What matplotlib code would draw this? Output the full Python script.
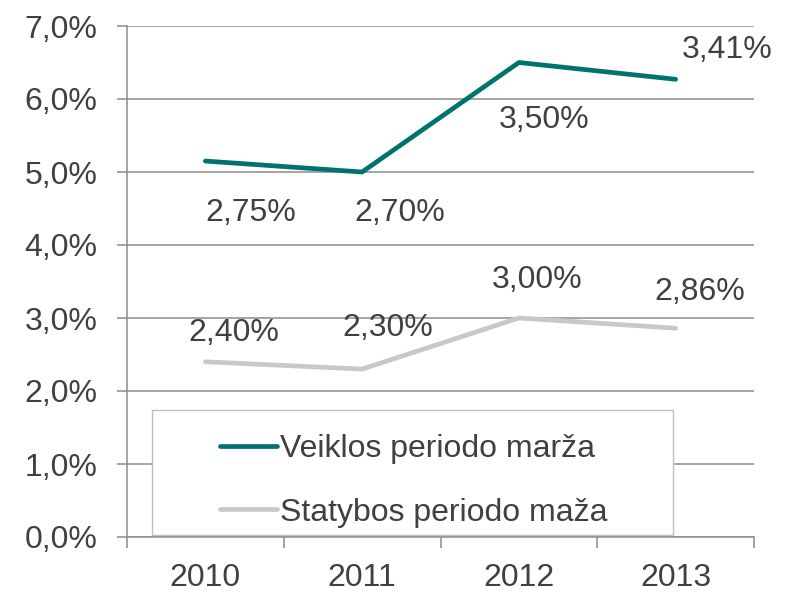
import matplotlib
matplotlib.use('Agg')
import matplotlib.pyplot as plt
from matplotlib.patches import Rectangle

plt.rcParams['font.family'] = ['Liberation Sans', 'DejaVu Sans']

# data (stacked line chart: top series is drawn on top of bottom one)
years = ['2010', '2011', '2012', '2013']
statybos = [2.40, 2.30, 3.00, 2.86]
veiklos = [2.75, 2.70, 3.50, 3.41]
veiklos_name = 'Veiklos periodo marža'
statybos_name = 'Statybos periodo maža'
y_ticks = [0, 1, 2, 3, 4, 5, 6, 7]

teal = '#00736F'
grey_line = '#C8C8C8'
txt = '#404040'
grid_c = '#8C8C8C'
fs = 23

def pct(v, dec=2):
    return f'{v:.{dec}f}'.replace('.', ',') + '%'

x = list(range(len(years)))
veiklos_top = [a + b for a, b in zip(statybos, veiklos)]

fig = plt.figure(figsize=(7.91, 5.92), dpi=100)
ax = fig.add_axes([127 / 791, 55 / 592, 627 / 791, 511 / 592])

ax.plot(x, veiklos_top, color=teal, lw=3.4, solid_capstyle='round', zorder=4, label=veiklos_name)
ax.plot(x, statybos, color=grey_line, lw=3.4, solid_capstyle='round', zorder=4, label=statybos_name)

# data labels (offsets in pixels)
off_v = [(45, -52), (38, -41), (25, -58), (52, 29)]
off_s = [(28, 29), (26, 41), (18, 38), (24, 36)]
for i in x:
    ax.annotate(pct(veiklos[i]), (x[i], veiklos_top[i]), xytext=off_v[i], textcoords='offset pixels',
                ha='center', va='center', fontsize=fs, color=txt, zorder=6)
    ax.annotate(pct(statybos[i]), (x[i], statybos[i]), xytext=off_s[i], textcoords='offset pixels',
                ha='center', va='center', fontsize=fs, color=txt, zorder=6)

ax.set_xlim(-0.5, len(years) - 0.5)
ax.set_ylim(0, 7)
ax.set_yticks(y_ticks)
ax.set_yticklabels([pct(v, 1) for v in y_ticks])
ax.set_xticks(x)
ax.set_xticklabels(years)
ax.set_xticks([i - 0.5 for i in range(len(years) + 1)], minor=True)

ax.yaxis.grid(True, color=grid_c, lw=1.1, zorder=0)
ax.set_axisbelow(True)
for s in ['top', 'right']:
    ax.spines[s].set_visible(False)
for s in ['left', 'bottom']:
    ax.spines[s].set_color(grid_c)
    ax.spines[s].set_linewidth(1.1)

ax.tick_params(axis='y', length=7.2, width=1.1, color=grid_c, pad=14, labelsize=fs, labelcolor=txt)
ax.tick_params(axis='x', which='major', length=0, pad=19, labelsize=fs, labelcolor=txt)
ax.tick_params(axis='x', which='minor', length=8, width=1.1, color=grid_c)

# legend box
ax.add_patch(Rectangle((0.04, 0.004), 0.831, 0.2445, transform=ax.transAxes,
                       facecolor='white', edgecolor='#BFBFBF', lw=1, zorder=3))
leg = ax.legend(loc='center left', bbox_to_anchor=(0.148, 0.11), frameon=False,
                fontsize=fs, handlelength=1.8, handletextpad=0.1, labelspacing=1.05,
                borderpad=0, borderaxespad=0, labelcolor=txt)
leg.set_zorder(5)

fig.savefig('out.png', dpi=100)
